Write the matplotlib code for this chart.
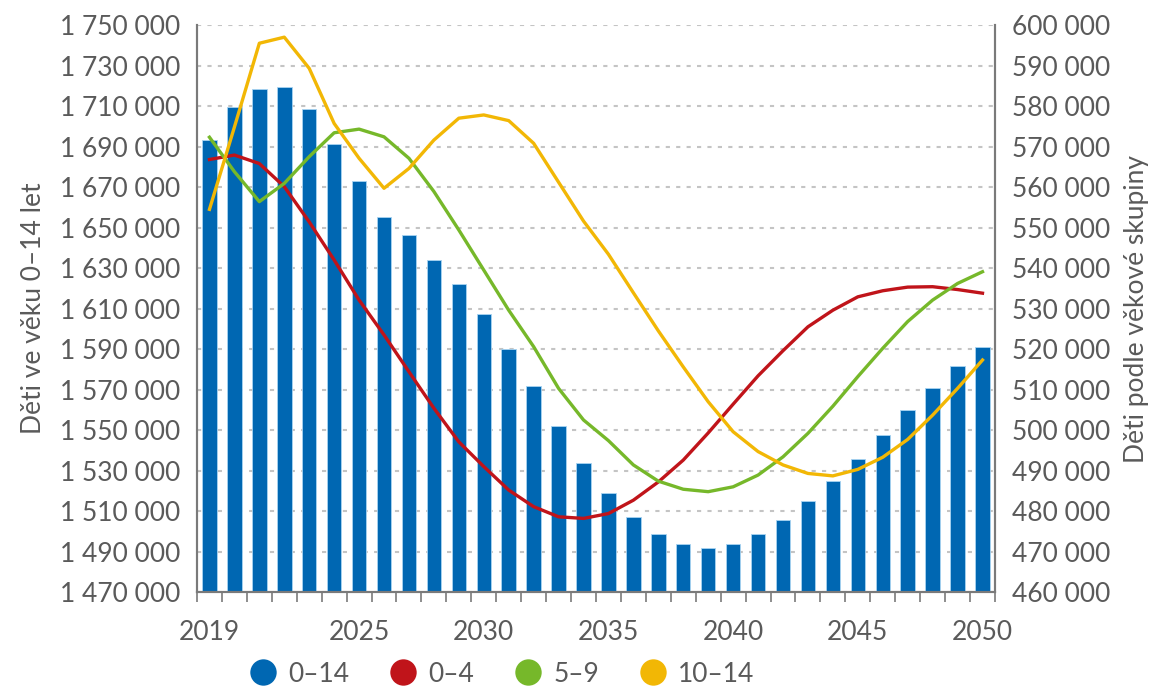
import numpy as np
import matplotlib
matplotlib.use('Agg')
import matplotlib.pyplot as plt
import matplotlib.ticker as ticker
from matplotlib.lines import Line2D

plt.rcParams['font.family'] = ['Lato', 'DejaVu Sans']

# --- Data ---
years = list(range(2019, 2051))
total_0_14 = [1693200, 1709400, 1718200, 1719200, 1708400, 1691200, 1673100, 1655000,
              1646200, 1634100, 1622100, 1607100, 1589900, 1571700, 1552000, 1533900,
              1519100, 1506900, 1498700, 1493700, 1491600, 1493700, 1498700, 1505600,
              1514800, 1524800, 1535700, 1547700, 1559700, 1570800, 1581600, 1590900]
age_0_4 = [566800, 567900, 565800, 560100, 551400, 542000, 532100, 523500,
           514400, 505400, 497100, 491000, 485200, 481100, 478600, 478200,
           479400, 482700, 487200, 492600, 499300, 506400, 513400, 519600,
           525500, 529600, 532900, 534400, 535300, 535400, 534700, 533800]
age_5_9 = [572300, 563800, 556400, 560900, 567500, 573400, 574300, 572400,
           567100, 558900, 549400, 539500, 529600, 520600, 510300, 502500,
           497400, 491400, 487400, 485400, 484800, 486000, 488900, 493400,
           499200, 505900, 513200, 520200, 526800, 532100, 536200, 539100]
age_10_14 = [554500, 574800, 595500, 597000, 589300, 575700, 567100, 559700,
             564600, 571600, 577000, 577800, 576400, 570800, 561200, 551600,
             543400, 533900, 524500, 515600, 507000, 499600, 494700, 491400,
             489300, 488700, 490300, 493300, 497700, 503700, 510300, 517300]
xtick_years = [2019, 2025, 2030, 2035, 2040, 2045, 2050]
left_ticks = list(range(1470000, 1750001, 20000))
right_ticks = list(range(460000, 600001, 10000))
legend_labels = ['0–14', '0–4', '5–9', '10–14']

c_blue = '#0067b2'
c_red = '#c0141a'
c_green = '#76b82a'
c_yellow = '#f2b705'
c_text = '#5a5a5a'
c_spine = '#7a7a7a'

x = np.arange(len(years))

fig = plt.figure(figsize=(11.74, 6.95), dpi=100)
ax = fig.add_axes([0.1678, 0.148, 0.6797, 0.816])
ax2 = ax.twinx()

# bars on left axis
ax.bar(x, total_0_14, width=0.58, color=c_blue, edgecolor='#a8d4f2', linewidth=0.6, zorder=2)
ax.set_xlim(-0.5, len(years) - 0.5)
ax.set_ylim(left_ticks[0], left_ticks[-1])
ax.set_yticks(left_ticks)
ax.grid(axis='y', color='#c4c4c4', linestyle=(0, (2, 3)), linewidth=1.5, zorder=0)
ax.set_axisbelow(True)

# lines on right axis
for vals, col in [(age_0_4, c_red), (age_5_9, c_green), (age_10_14, c_yellow)]:
    ax2.plot(x, vals, color=col, linewidth=2.4, solid_joinstyle='round', zorder=3)
ax2.set_ylim(right_ticks[0], right_ticks[-1])
ax2.set_yticks(right_ticks)

fmt = ticker.FuncFormatter(lambda v, p: '{:,}'.format(int(round(v))).replace(',', ' '))
ax.yaxis.set_major_formatter(fmt)
ax2.yaxis.set_major_formatter(fmt)

# x ticks: labels at selected years, small marks between bars
ax.set_xticks([years.index(y) for y in xtick_years])
ax.set_xticklabels([str(y) for y in xtick_years])
ax.set_xticks(np.arange(-0.5, len(years), 1.0), minor=True)
ax.tick_params(axis='x', which='major', length=0, pad=20, labelsize=19, labelcolor=c_text)
ax.tick_params(axis='x', which='minor', length=7, width=1.2, color=c_spine, direction='out')
ax.tick_params(axis='y', length=0, pad=12, labelsize=19, labelcolor=c_text)
ax2.tick_params(axis='y', length=0, pad=12, labelsize=19, labelcolor=c_text)

for a in (ax, ax2):
    a.spines['top'].set_visible(False)
    for s in ('left', 'right', 'bottom'):
        a.spines[s].set_color(c_spine)
        a.spines[s].set_linewidth(1.5)

ax.set_ylabel('Děti ve věku 0–14 let', fontsize=19, color=c_text, labelpad=10)
ax2.set_ylabel('Děti podle věkové skupiny', fontsize=19, color=c_text, labelpad=10)

# legend with round markers
handles = [Line2D([], [], linestyle='none', marker='o', markersize=19, markeredgewidth=0,
                  color=c) for c in (c_blue, c_red, c_green, c_yellow)]
fig.legend(handles, legend_labels, loc='center', bbox_to_anchor=(0.427, 0.03), ncol=4,
           frameon=False, fontsize=19, labelcolor=c_text, handletextpad=0.4,
           columnspacing=1.5, handlelength=1.1)

fig.savefig('out.png', dpi=100)
